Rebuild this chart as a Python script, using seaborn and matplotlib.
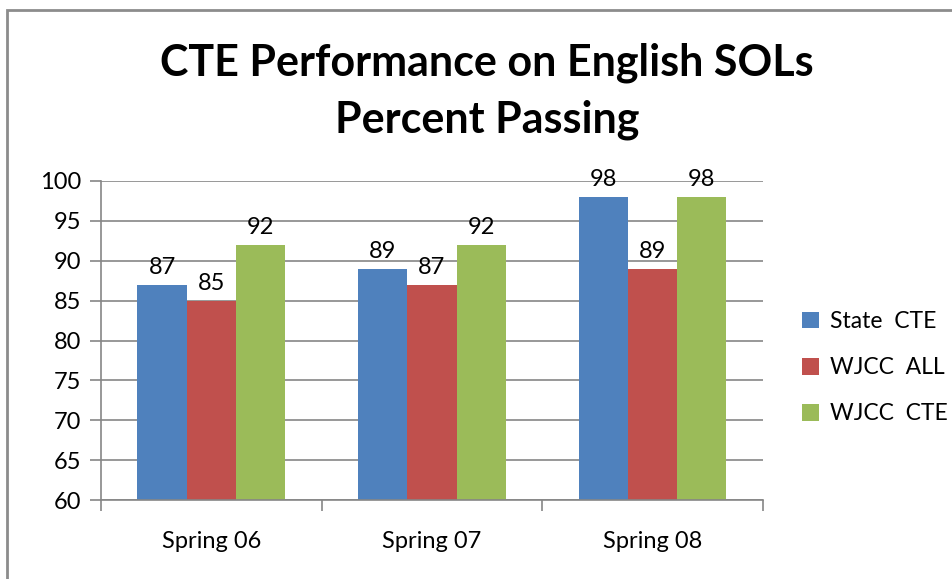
"""Recreate the CTE English SOL percent-passing bar chart."""

import matplotlib.pyplot as plt
import pandas as pd
import seaborn as sns
from matplotlib.patches import Rectangle

terms = ["Spring 06", "Spring 07", "Spring 08"]
groups = ["State  CTE", "WJCC  ALL", "WJCC  CTE"]
state_cte = [87, 89, 98]
wjcc_all = [85, 87, 89]
wjcc_cte = [92, 92, 98]
colors = ["#4F81BD", "#C0504D", "#9BBB59"]

df = pd.DataFrame({
    "term": terms * 3,
    "group": [g for g in groups for _ in terms],
    "pct": state_cte + wjcc_all + wjcc_cte,
})

sns.set_style("white")
plt.rcParams["font.family"] = ["Lato", "DejaVu Sans"]
plt.rcParams["text.color"] = "black"
plt.rcParams["xtick.color"] = "black"
plt.rcParams["ytick.color"] = "black"

fig = plt.figure(figsize=(9.53, 5.79), dpi=100)
ax = fig.add_axes([0.106, 0.1364, 0.6945, 0.551])

sns.barplot(data=df, x="term", y="pct", hue="group", order=terms, hue_order=groups,
            palette=colors, saturation=1, width=0.67, linewidth=0, ax=ax, legend=True)

for cont in ax.containers:
    ax.bar_label(cont, fontsize=17, padding=5, color="black")

ax.set_ylim(60, 100)
ax.set_yticks(range(60, 101, 5))
ax.set_xlim(-0.5, 2.5)
ax.set_xlabel("")
ax.set_ylabel("")
ax.grid(True, axis="y", color="#868686", linewidth=1.2)
ax.set_axisbelow(True)
ax.tick_params(axis="y", labelsize=17, length=8, width=1.2, color="#868686",
               labelcolor="black", pad=6, left=True)
ax.tick_params(axis="x", which="major", labelsize=17, length=0, pad=22, labelcolor="black")
ax.set_xticks([-0.5, 0.5, 1.5, 2.5], minor=True)
ax.tick_params(axis="x", which="minor", length=8, width=1.2, color="#868686", bottom=True)
for side in ["top", "right"]:
    ax.spines[side].set_visible(False)
for side in ["left", "bottom"]:
    ax.spines[side].set_color("#868686")
    ax.spines[side].set_linewidth(1.2)

handles, labels = ax.get_legend_handles_labels()
ax.legend(handles, labels, loc="center left", bbox_to_anchor=(0.82, 0.365),
          bbox_transform=fig.transFigure, frameon=False, fontsize=16.5,
          handlelength=0.75, handleheight=0.75, handletextpad=0.45, labelspacing=1.1)

fig.text(0.511, 0.842, "CTE Performance on English SOLs\nPercent Passing",
         ha="center", va="center", fontsize=31, fontweight="bold", linespacing=1.5,
         color="black")

fig.patches.append(Rectangle((0.0075, -0.1), 1.2, 1.083, transform=fig.transFigure,
                             fill=False, edgecolor="#8C8C8C", linewidth=2))

fig.savefig("out.png", dpi=100)
plt.close(fig)
